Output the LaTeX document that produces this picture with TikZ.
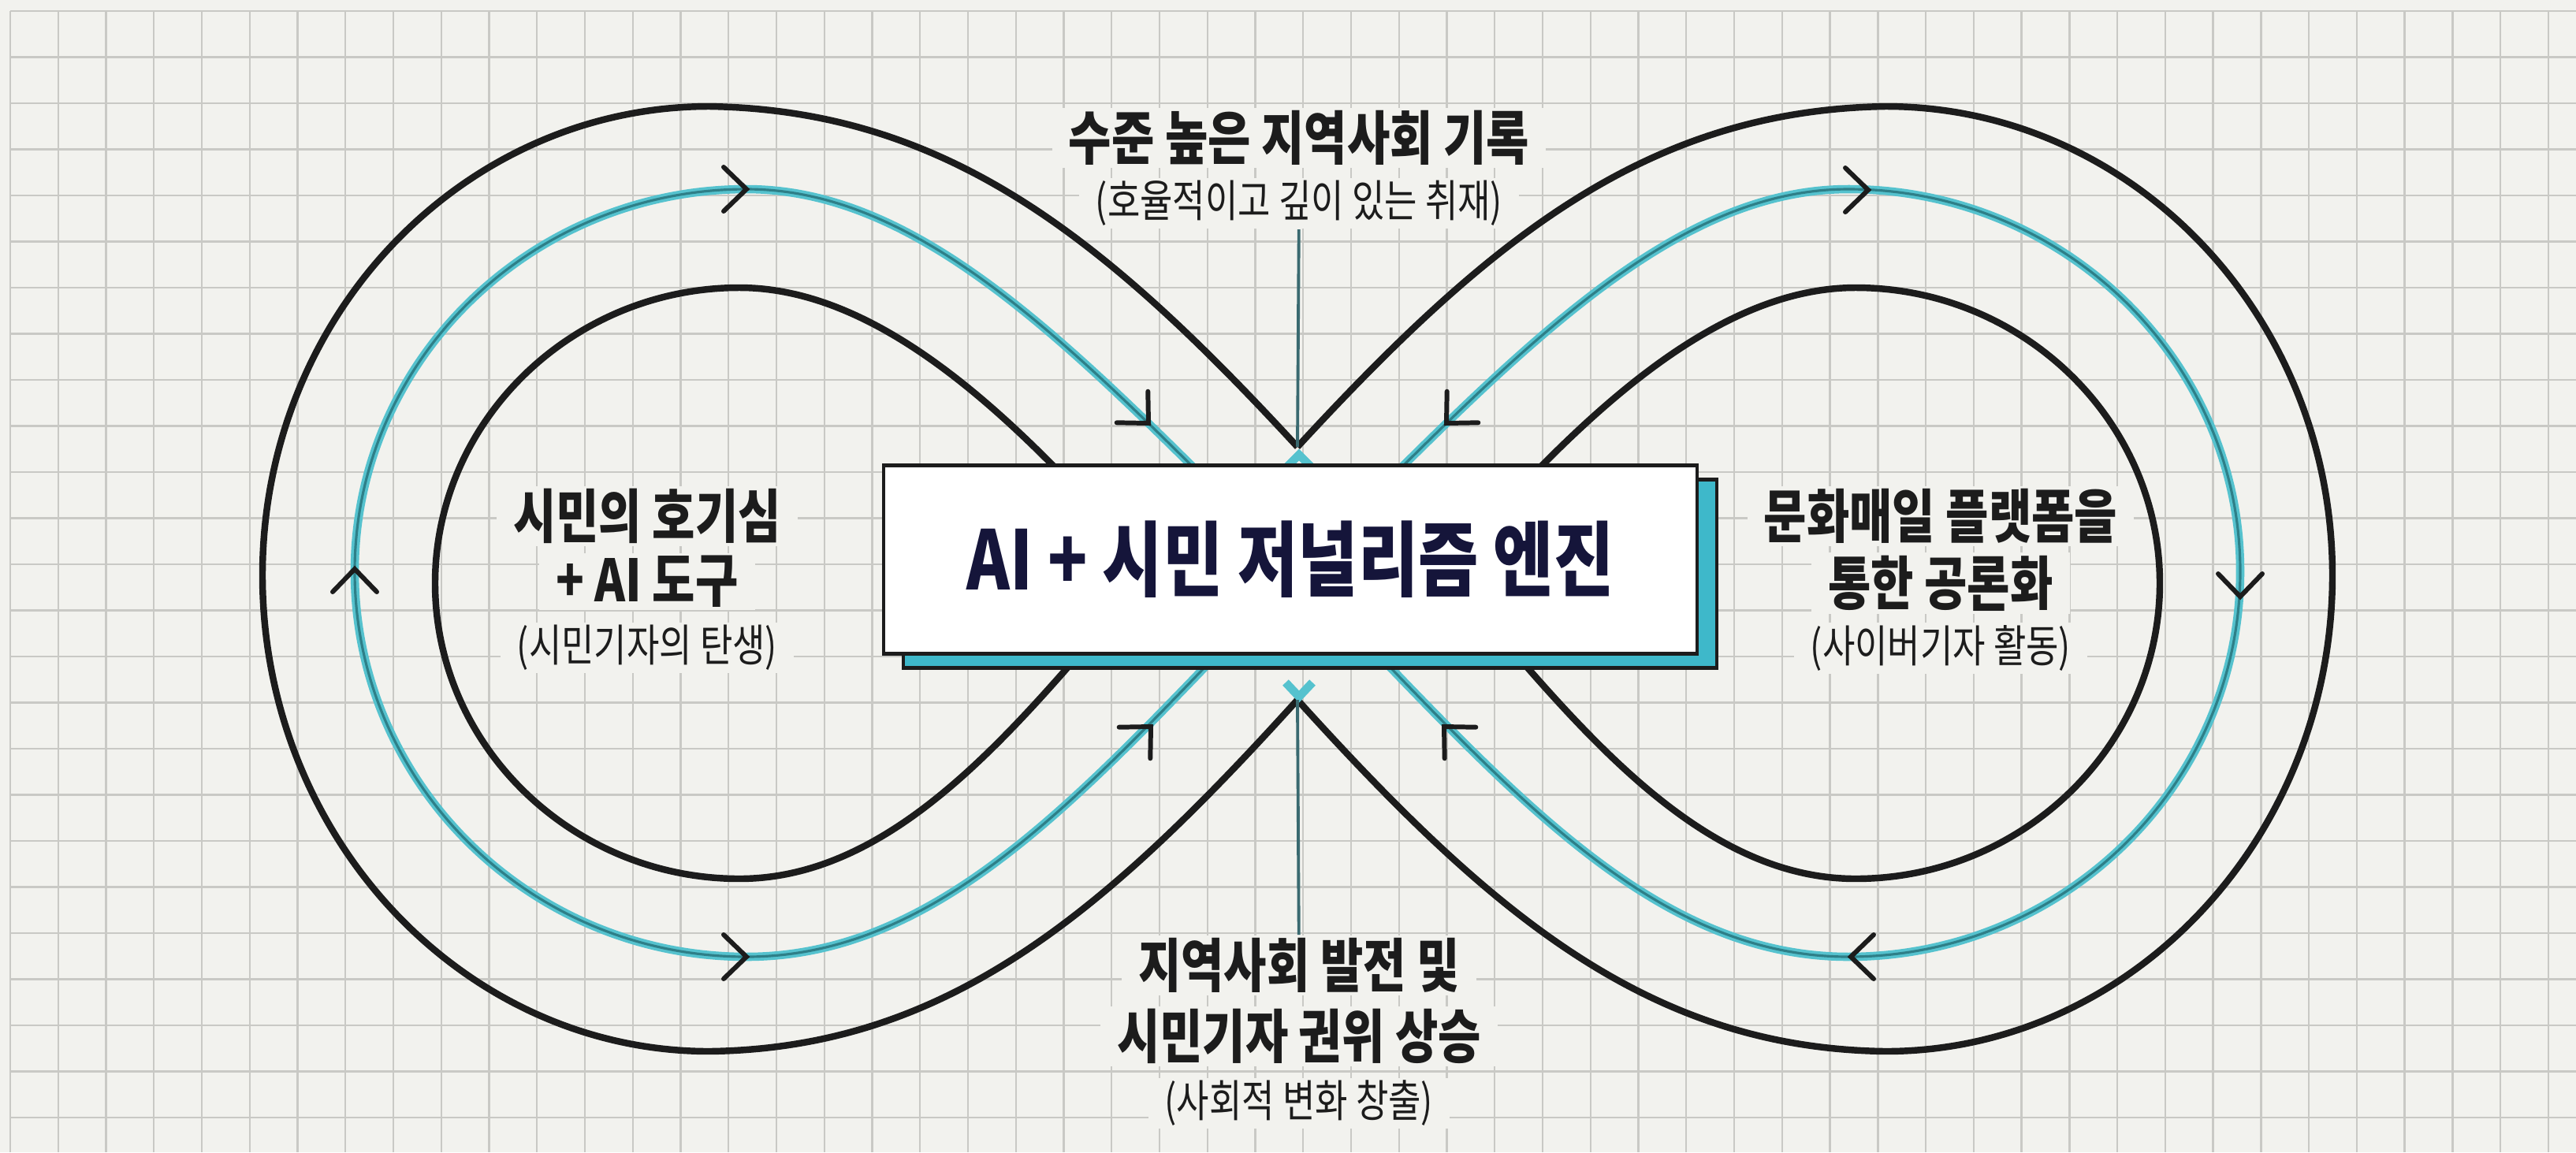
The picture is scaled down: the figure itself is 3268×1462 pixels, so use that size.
\documentclass[tikz,border=0pt]{standalone}
\usepackage{fontspec}
\usepackage{xcolor}
\newfontfamily\krfont{Noto Sans CJK KR}[FakeStretch=0.8]
\definecolor{paper}{HTML}{F2F2EE}
\definecolor{gridgray}{HTML}{C9C9C5}
\definecolor{ink}{HTML}{1C1C1C}
\definecolor{navy}{HTML}{15153A}
\definecolor{flowcyan}{HTML}{55C2CE}
\definecolor{flowdark}{HTML}{2E7F88}
\definecolor{shadowcyan}{HTML}{3EB8CA}
\definecolor{stemteal}{HTML}{3A6A70}

\begin{document}
\begin{tikzpicture}[x=0.01cm, y=-0.01cm,
    grid_line/.style={draw=gridgray, line width=0.7pt},
    band_line/.style={draw=ink, line width=2.4pt, line join=round},
    flow_line/.style={draw=flowcyan, line width=3pt},
    flow_core/.style={draw=flowdark, line width=0.9pt},
    chev_line/.style={draw=ink, line width=1.7pt, line cap=round, line join=miter},
    stem_line/.style={draw=stemteal, line width=1.1pt},
    big_label/.style={fill=paper, inner xsep=6pt, inner ysep=1pt, text=ink, font=\krfont\bfseries\fontsize{21}{25}\selectfont},
    sub_label/.style={fill=paper, inner xsep=6pt, inner ysep=1pt, text=ink, font=\krfont\fontsize{16}{19}\selectfont},
    engine_shadow/.style={draw=ink, line width=1.2pt, fill=shadowcyan, minimum width=10.31cm, minimum height=2.39cm, inner sep=0pt},
    engine_box/.style={draw=ink, line width=1.2pt, fill=white, minimum width=10.31cm, minimum height=2.39cm, inner sep=0pt, text=navy, font=\krfont\bfseries\fontsize{29.5}{33}\selectfont},
    chev/.pic={\draw[chev_line] (-29,-28) -- (0,0) -- (-29,28);}]

    \useasboundingbox (0,0) rectangle (3268,1462);
    \fill[paper] (0,0) rectangle (3268,1462);

    % squared paper
    \foreach \i in {0,...,53}
        \draw[grid_line] ({13+60.75*\i},14) -- ({13+60.75*\i},1462);
    \foreach \j in {0,...,24}
        \draw[grid_line] (13,{14+58.5*\j}) -- (3268,{14+58.5*\j});

    \coordinate (v_top) at (1646,567);
    \coordinate (v_bot) at (1646,888);

    % the band, left lobe and its mirror
    \foreach \s in {1,-1}{
    \begin{scope}[shift={(1646,0)}, xscale=\s, shift={(-1646,0)}]
    \draw[band_line] (v_top) .. controls (1400,300) and (1200,140) .. (900,135)
        .. controls (588,135) and (333,400) .. (333,730)
        .. controls (333,1062) and (588,1334) .. (900,1334)
        .. controls (1200,1330) and (1400,1160) .. (v_bot);
    \draw[band_line] (1460,725) .. controls (1310,555) and (1130,365) .. (938,365)
        .. controls (726,365) and (552,534) .. (552,740)
        .. controls (552,946) and (726,1115) .. (938,1115)
        .. controls (1150,1115) and (1310,895) .. (1460,725) -- cycle;
    \draw[flow_line, postaction={flow_core}] (1646,725) .. controls (1380,460) and (1180,240) .. (947,240)
        .. controls (674,240) and (450,458) .. (450,725)
        .. controls (450,995) and (674,1214) .. (947,1214)
        .. controls (1210,1214) and (1400,975) .. (1646,725);
    \end{scope}
    }
    \draw[flow_line] (1631,594) -- (1648,577) -- (1665,594);
    \draw[flow_line] (1631,866) -- (1648,884) -- (1665,866);

    % arrow heads on the flow
    \pic at (947,240) {chev};
    \pic[rotate=90] at (450,722) {chev};
    \pic at (947,1214) {chev};
    \pic[rotate=-45] at (1457,537) {chev};
    \pic[rotate=45] at (1460,922) {chev};
    \pic at (2370,241) {chev};
    \pic[rotate=-90] at (2842,757) {chev};
    \pic[rotate=180] at (2348,1214) {chev};
    \pic[rotate=-135] at (1835,537) {chev};
    \pic[rotate=135] at (1832,922) {chev};

    \node[engine_shadow] (1) at (1662,728) {};
    \node[engine_box] (0) at (1637,710) {AI + 시민 저널리즘 엔진};

    \node[big_label] (2) at (1648,175) {수준 높은 지역사회 기록};
    \node[sub_label] (3) at (1648,258) {(호율적이고 깊이 있는 취재)};

    \node[big_label] (4) at (821,655) {시민의 호기심};
    \node[big_label] (5) at (821,738) {+ AI 도구};
    \node[sub_label] (6) at (821,822) {(시민기자의 탄생)};

    \node[big_label] (7) at (2462,655) {문화매일 플랫폼을};
    \node[big_label] (8) at (2462,740) {통한 공론화};
    \node[sub_label] (9) at (2462,822) {(사이버기자 활동)};

    \node[big_label] (10) at (1648,1225) {지역사회 발전 및};
    \node[big_label] (11) at (1648,1315) {시민기자 권위 상승};
    \node[sub_label] (12) at (1648,1400) {(사회적 변화 창출)};

    \path[stem_line]
    (3) edge (v_top)
    (v_bot) edge (10)
    ;
\end{tikzpicture}
\end{document}
